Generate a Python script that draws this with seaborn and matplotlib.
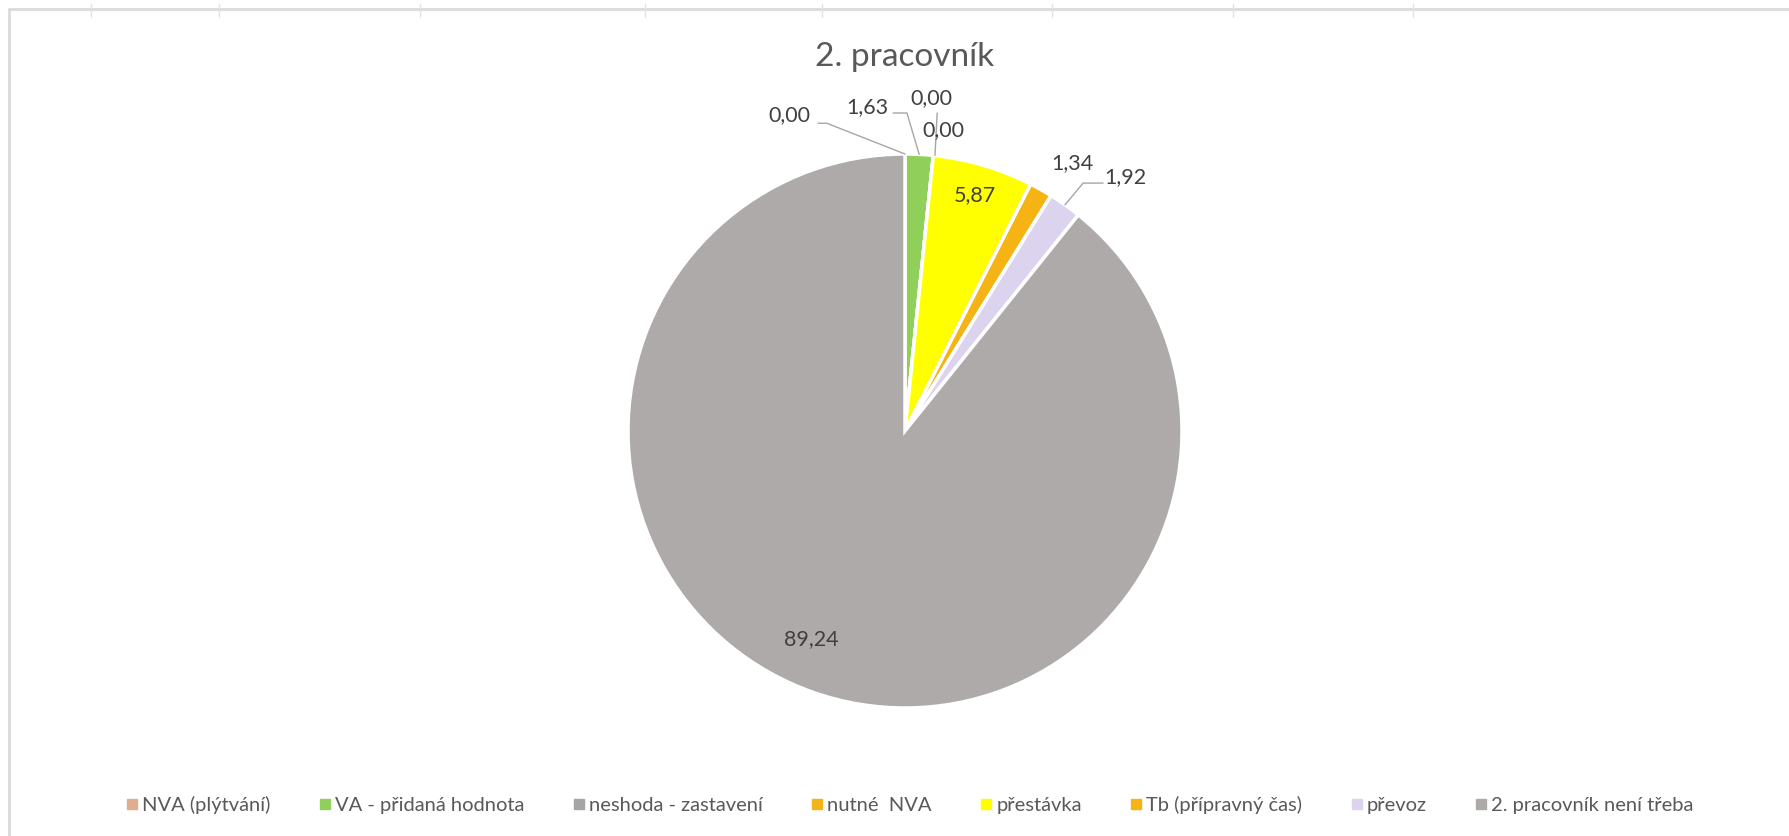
import matplotlib
matplotlib.use("Agg")
import matplotlib.pyplot as plt
from matplotlib.lines import Line2D
import numpy as np
import seaborn as sns

# ---- data ----
categories = ["NVA (plýtvání)", "VA - přidaná hodnota", "neshoda - zastavení",
              "nutné  NVA", "přestávka", "Tb (přípravný čas)", "převoz",
              "2. pracovník není třeba"]
values = [0.00, 1.63, 0.00, 0.00, 5.87, 1.34, 1.92, 89.24]
value_labels = ["0,00", "1,63", "0,00", "0,00", "5,87", "1,34", "1,92", "89,24"]
colors = ["#E0AE8E", "#8FCF5A", "#A5A5A5", "#F2B418", "#FFFF00", "#F5B414",
          "#DCD3EE", "#ADAAA9"]
title = "2. pracovník"

# label placement (pie units, radius 1)
label_pos = [(-0.419, 1.141), (-0.137, 1.170), (0.095, 1.202), (0.137, 1.087),
             (0.253, 0.852), (0.603, 0.968), (0.794, 0.917), (-0.34, -0.75)]

sns.set_theme(style="white")
plt.rcParams["font.family"] = ["Lato", "DejaVu Sans"]

W, H = 1789, 836
fig = plt.figure(figsize=(W / 100, H / 100), dpi=100)
fig.patch.set_facecolor("white")

# spreadsheet border remnants
bg = fig.add_axes([0, 0, 1, 1])
bg.set_xlim(0, W)
bg.set_ylim(H, 0)
bg.axis("off")
bg.plot([9, W], [9, 9], color="#DADADA", lw=2)
bg.plot([9, 9], [9, H], color="#DADADA", lw=2)
for tx in [91, 219, 420, 645, 822, 1052, 1233, 1413]:
    bg.plot([tx, tx], [4, 17], color="#E2E2E2", lw=1)

R = 277.0
cx, cy = 905.0, 431.0
lim = 1.4
side = 2 * lim * R
ax = fig.add_axes([(cx - side / 2) / W, (H - cy - side / 2) / H, side / W, side / H])
wedges, _ = ax.pie(values, colors=colors, startangle=90, counterclock=False,
                   radius=1, wedgeprops=dict(edgecolor="white", linewidth=2.5))
ax.set_xlim(-lim, lim)
ax.set_ylim(-lim, lim)
ax.set_aspect("equal")
ax.axis("off")

# data labels
cum = np.cumsum([0] + values[:-1])
total = sum(values)
edge = []
for i in range(len(values)):
    mid = np.deg2rad(90 - (cum[i] + values[i] / 2) / total * 360)
    edge.append((np.cos(mid), np.sin(mid)))
for lab, (lx, ly) in zip(value_labels, label_pos):
    ax.text(lx, ly, lab, ha="center", va="center", fontsize=15.5, color="#404040")

lc = dict(color="#A6A6A6", lw=1)
# NVA
lx, ly = label_pos[0]
ax.plot([lx + 0.105, lx + 0.137, edge[0][0]], [ly - 0.03, ly - 0.03, edge[0][1]], **lc)
# VA
lx, ly = label_pos[1]
ax.plot([lx + 0.094, lx + 0.144, edge[1][0]], [ly - 0.022, ly - 0.022, edge[1][1]], **lc)
# neshoda
lx, ly = label_pos[2]
ax.plot([edge[2][0] + 0.006, edge[2][0] + 0.014], [edge[2][1], ly - 0.054], **lc)
# převoz
lx, ly = label_pos[6]
ax.plot([lx - 0.079, lx - 0.151, edge[6][0]], [ly - 0.022, ly - 0.022, edge[6][1]], **lc)

fig.text(cx / W, 1 - 57 / H, title, ha="center", va="center", fontsize=24,
         color="#595959")

handles = [Line2D([0], [0], marker="s", linestyle="none", markersize=7,
                  markerfacecolor=c, markeredgecolor=c) for c in colors]
fig.legend(handles, categories, loc="center", bbox_to_anchor=(0.508, 1 - 805 / H),
           ncol=8, frameon=False, fontsize=14.5, handletextpad=0.1,
           columnspacing=2.3, labelcolor="#595959", handlelength=0.8)

fig.savefig("out.png", dpi=100, facecolor="white")
